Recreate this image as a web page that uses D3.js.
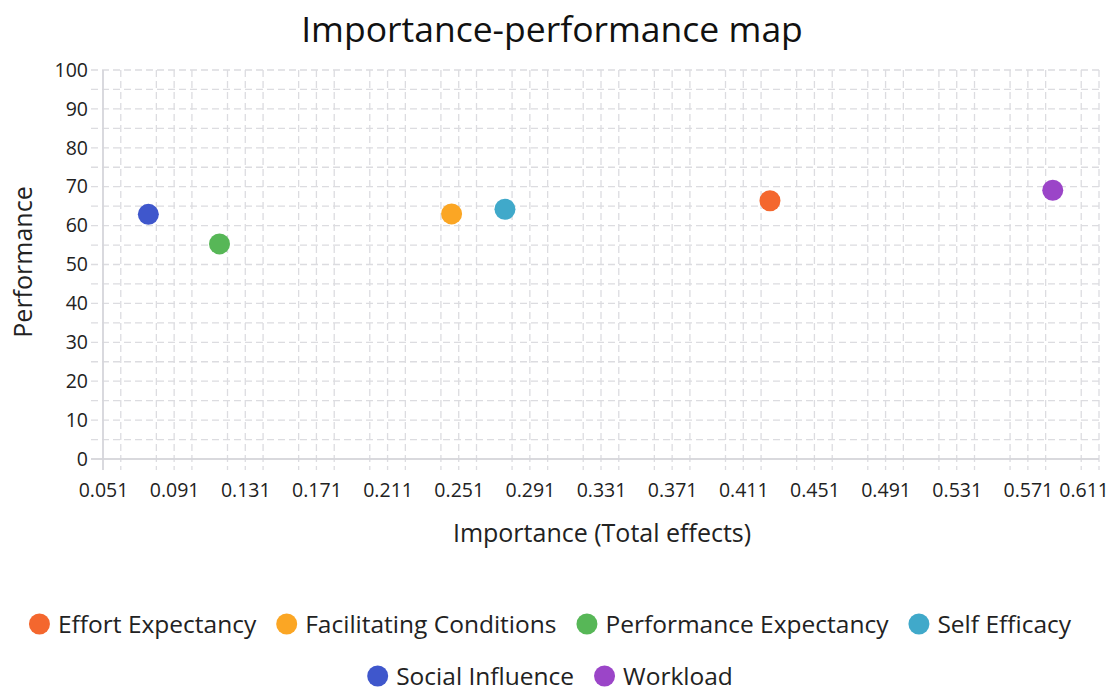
<!DOCTYPE html>
<html><head><meta charset="utf-8">
<script src="https://cdn.jsdelivr.net/npm/d3@7"></script>
<style>
body{margin:0;background:#fff;}
svg{display:block;font-family:"Open Sans","Noto Sans",sans-serif;}
</style></head>
<body>
<svg id="chart" width="1115" height="693"></svg>
<script>
const categories = ["Effort Expectancy","Facilitating Conditions","Performance Expectancy","Self Efficacy","Social Influence","Workload"];
const importance = [0.426, 0.247, 0.1165, 0.277, 0.0765, 0.585];
const performance = [66.4, 63.0, 55.3, 64.2, 62.9, 69.1];
const colors = ["#F4672E","#FBA624","#57B757","#40A9CA","#3F57CC","#9B45C8"];
const xTickLabels = ["0.051","0.091","0.131","0.171","0.211","0.251","0.291","0.331","0.371","0.411","0.451","0.491","0.531","0.571","0.611"];
const yTickLabels = [0,10,20,30,40,50,60,70,80,90,100];

const svg = d3.select("#chart");
const W = 1115, H = 693;
const m = {left:103, right:1099, top:70, bottom:459};

const x = d3.scaleLinear().domain([0.051, 0.611]).range([m.left, m.right]);
const y = d3.scaleLinear().domain([0, 100]).range([m.bottom, m.top]);

const xMajor = xTickLabels.map(Number);
const xMinor = d3.range(0, 28).map(i => 0.061 + 0.02*i).filter(v => v < 0.611 + 1e-9 && !xMajor.some(t => Math.abs(t - v) < 1e-9));
const yMinor = d3.range(5, 100, 10);

const grid = svg.append("g");
grid.selectAll(".hy").data(yTickLabels.concat(yMinor)).join("line")
  .attr("x1", m.left - 12).attr("x2", m.right)
  .attr("y1", d => y(d)).attr("y2", d => y(d))
  .attr("stroke", "#dcdce0").attr("stroke-width", 1.3)
  .attr("stroke-dasharray", d => d === 0 ? null : "7,4");
grid.selectAll(".vx").data(xMajor.concat(xMinor)).join("line")
  .attr("x1", d => x(d)).attr("x2", d => x(d))
  .attr("y1", m.top).attr("y2", m.bottom + 11)
  .attr("stroke", "#dcdce0").attr("stroke-width", 1.3)
  .attr("stroke-dasharray", (d,i) => i === 0 ? null : "7,4");

svg.append("line").attr("x1", m.left - 12).attr("x2", m.right).attr("y1", y(0)).attr("y2", y(0))
  .attr("stroke", "#d4d4da").attr("stroke-width", 1.5);
svg.append("line").attr("x1", m.left).attr("x2", m.left).attr("y1", m.top).attr("y2", m.bottom + 11)
  .attr("stroke", "#d4d4da").attr("stroke-width", 1.5);

const yAxis = d3.axisLeft(y).tickValues(yTickLabels).tickSize(0).tickPadding(15).tickFormat(d3.format("d"));
const gy = svg.append("g").attr("transform", `translate(${m.left},0)`).call(yAxis);
gy.select(".domain").remove();
gy.selectAll("text").attr("font-size", 19.5).attr("fill", "#222").attr("font-family", "Open Sans");

const xAxis = d3.axisBottom(x).tickValues(xMajor).tickSize(0).tickPadding(0).tickFormat((d,i) => xTickLabels[i]);
const gx = svg.append("g").attr("transform", `translate(0,${m.bottom + 24})`).call(xAxis);
gx.select(".domain").remove();
gx.selectAll("text").attr("font-size", 19.5).attr("fill", "#222").attr("font-family", "Open Sans").attr("dy", "0.71em")
  .each(function(){
    const bb = this.getBBox();
    const t = d3.select(this.parentNode).attr("transform");
    const tx = +t.match(/translate\(([-\d.]+)/)[1];
    if (tx + bb.x + bb.width > W - 6) d3.select(this).attr("x", (W - 6) - (tx + bb.x + bb.width));
  });

svg.append("text").attr("x", 552).attr("y", 42).attr("text-anchor", "middle")
  .attr("font-size", 35.5).attr("fill", "#111").text("Importance-performance map");
svg.append("text").attr("x", 602).attr("y", 542).attr("text-anchor", "middle")
  .attr("font-size", 25).attr("fill", "#222").text("Importance (Total effects)");
svg.append("text").attr("transform", "translate(32,262) rotate(-90)").attr("text-anchor", "middle")
  .attr("font-size", 25).attr("fill", "#222").text("Performance");

svg.append("g").selectAll("circle").data(categories).join("circle")
  .attr("cx", (d,i) => x(importance[i])).attr("cy", (d,i) => y(performance[i]))
  .attr("r", 10.5).attr("fill", (d,i) => colors[i]);

const leg = svg.append("g");
const fs = 24.5, r = 10.5, gapIcon = 8, gapItem = 20;
const items = categories.map((c,i) => {
  const t = leg.append("text").attr("font-size", fs).attr("fill", "#222").text(c);
  return {c, i, t, w: t.node().getComputedTextLength()};
});
const maxW = 1105;
const rows = [[]]; let cur = 0;
items.forEach(it => {
  const iw = 2*r + gapIcon + it.w;
  it.iw = iw;
  const row = rows[rows.length-1];
  const add = (row.length ? gapItem : 0) + iw;
  if (cur + add > maxW && row.length) { rows.push([it]); cur = iw; }
  else { row.push(it); cur += add; }
});
rows.forEach((row, ri) => {
  const total = d3.sum(row, d => d.iw) + gapItem*(row.length-1);
  let xx = 550 - total/2;
  const cy = 624 + ri*52;
  row.forEach(it => {
    leg.append("circle").attr("cx", xx + r).attr("cy", cy).attr("r", r).attr("fill", colors[it.i]);
    it.t.attr("x", xx + 2*r + gapIcon).attr("y", cy).attr("dy", "0.35em");
    xx += it.iw + gapItem;
  });
});
</script>
</body></html>
